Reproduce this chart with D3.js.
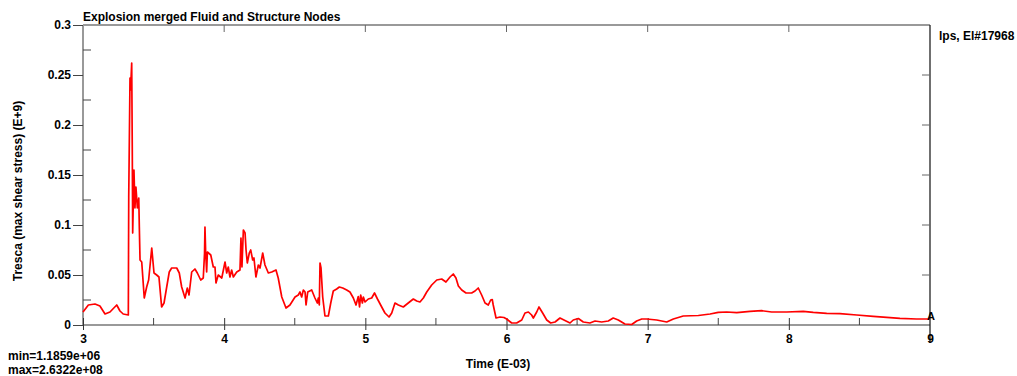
<!DOCTYPE html>
<html><head><meta charset="utf-8">
<script src="https://cdn.jsdelivr.net/npm/d3@7"></script>
<style>
html,body{margin:0;padding:0;background:#fff;}
svg text{font-family:"Liberation Sans",Arial,sans-serif;font-weight:bold;fill:#000;}
</style></head>
<body><svg id="chart" width="1017" height="376"></svg>
<script>
const title = "Explosion merged Fluid and Structure Nodes";
const yLabel = "Tresca (max shear stress) (E+9)";
const xLabel = "Time (E-03)";
const legendText = "lps, El#17968";
const minText = "min=1.1859e+06";
const maxText = "max=2.6322e+08";
const xTicks = [3,4,5,6,7,8,9];
const yTicks = [0,0.05,0.1,0.15,0.2,0.25,0.3];
const yTickLabels = ["0","0.05","0.1","0.15","0.2","0.25","0.3"];
const xMinorTicks = [3.5,4.5,5.5,6.5,7.5,8.5];
const yMinorTicks = [0.025,0.075,0.125,0.175,0.225,0.275];

const time = [3.000,3.038,3.085,3.120,3.156,3.191,3.239,3.262,3.285,3.321,3.324,3.333,3.337,3.345,3.349,3.352,3.361,3.368,3.375,3.385,3.395,3.399,3.404,3.416,3.434,3.451,3.465,3.487,3.503,3.522,3.538,3.557,3.574,3.593,3.611,3.628,3.664,3.682,3.699,3.723,3.739,3.751,3.770,3.793,3.810,3.834,3.852,3.861,3.864,3.869,3.876,3.881,3.905,3.923,3.935,3.942,3.958,3.983,4.006,4.018,4.029,4.041,4.053,4.065,4.089,4.112,4.119,4.126,4.136,4.148,4.155,4.164,4.178,4.188,4.202,4.211,4.225,4.242,4.254,4.273,4.289,4.313,4.337,4.367,4.383,4.408,4.438,4.466,4.502,4.525,4.537,4.549,4.561,4.573,4.580,4.592,4.620,4.643,4.660,4.667,4.674,4.679,4.686,4.698,4.714,4.738,4.755,4.773,4.797,4.816,4.840,4.868,4.891,4.915,4.934,4.950,4.959,4.967,4.979,4.986,4.998,5.021,5.045,5.065,5.086,5.116,5.139,5.168,5.187,5.210,5.234,5.269,5.304,5.340,5.364,5.387,5.411,5.435,5.470,5.506,5.541,5.571,5.600,5.623,5.642,5.659,5.683,5.713,5.753,5.777,5.800,5.824,5.848,5.871,5.888,5.899,5.906,5.926,5.954,5.982,6.001,6.037,6.072,6.108,6.131,6.155,6.178,6.190,6.214,6.230,6.256,6.285,6.313,6.344,6.379,6.414,6.450,6.473,6.509,6.544,6.591,6.627,6.674,6.721,6.756,6.792,6.839,6.887,6.922,6.958,6.993,7.064,7.135,7.182,7.252,7.359,7.442,7.500,7.560,7.631,7.725,7.808,7.878,7.985,8.102,8.173,8.268,8.362,8.481,8.598,8.693,8.787,8.905,9.000];
const tresca = [0.013,0.020,0.021,0.019,0.011,0.013,0.020,0.014,0.011,0.010,0.128,0.247,0.235,0.262,0.177,0.092,0.155,0.117,0.138,0.117,0.127,0.098,0.065,0.063,0.027,0.038,0.045,0.077,0.052,0.050,0.048,0.018,0.022,0.038,0.053,0.057,0.057,0.052,0.038,0.027,0.037,0.030,0.053,0.056,0.052,0.045,0.047,0.072,0.098,0.072,0.053,0.073,0.070,0.058,0.058,0.042,0.050,0.047,0.063,0.052,0.058,0.048,0.055,0.048,0.053,0.055,0.087,0.058,0.095,0.092,0.075,0.062,0.072,0.075,0.065,0.067,0.048,0.060,0.057,0.072,0.060,0.052,0.053,0.055,0.047,0.028,0.017,0.020,0.028,0.030,0.033,0.028,0.035,0.033,0.020,0.033,0.035,0.027,0.022,0.027,0.020,0.062,0.057,0.028,0.009,0.009,0.022,0.034,0.036,0.038,0.037,0.035,0.033,0.027,0.020,0.0285,0.018,0.030,0.022,0.028,0.023,0.026,0.027,0.032,0.026,0.018,0.012,0.008,0.012,0.022,0.020,0.018,0.022,0.026,0.024,0.023,0.027,0.033,0.040,0.045,0.046,0.043,0.048,0.051,0.047,0.039,0.035,0.032,0.032,0.034,0.037,0.030,0.022,0.020,0.025,0.0255,0.020,0.007,0.008,0.0075,0.006,0.002,0.002,0.005,0.012,0.013,0.010,0.007,0.013,0.018,0.012,0.005,0.002,0.003,0.007,0.0045,0.002,0.005,0.0065,0.003,0.002,0.004,0.003,0.004,0.007,0.005,0.001,0.0005,0.004,0.006,0.006,0.005,0.003,0.006,0.009,0.0095,0.011,0.0127,0.013,0.0123,0.0137,0.0143,0.013,0.013,0.0137,0.0127,0.0117,0.0113,0.010,0.0087,0.0077,0.0067,0.006,0.006];

const L = 83, R = 930, T = 25, B = 325;
const svg = d3.select("#chart");
const x = d3.scaleLinear().domain([3,9]).range([L,R]);
const y = d3.scaleLinear().domain([0,0.3]).range([B,T]);

// frame
svg.append("line").attr("x1",L).attr("x2",R).attr("y1",T).attr("y2",T).attr("stroke","#999").attr("stroke-width",2);
svg.append("line").attr("x1",L).attr("x2",R).attr("y1",B).attr("y2",B).attr("stroke","#999").attr("stroke-width",2);
svg.append("line").attr("x1",L).attr("x2",L).attr("y1",T).attr("y2",B).attr("stroke","#999").attr("stroke-width",2);
svg.append("line").attr("x1",R).attr("x2",R).attr("y1",T).attr("y2",B+18).attr("stroke","#222").attr("stroke-width",1.3);

// left axis (major ticks outside with labels)
const yAxis = d3.axisLeft(y).tickValues(yTicks).tickSize(10).tickPadding(2)
  .tickFormat((d,i)=>yTickLabels[i]);
const gy = svg.append("g").attr("transform",`translate(${L},0)`).call(yAxis);
gy.select(".domain").remove();
gy.selectAll(".tick line").attr("stroke","#444");
gy.selectAll(".tick text").attr("font-size",12).attr("font-weight","bold").attr("fill","#000");
// minor y ticks inside
svg.append("g").selectAll("line").data(yMinorTicks).join("line")
  .attr("x1",L).attr("x2",L+8).attr("y1",d=>y(d)).attr("y2",d=>y(d)).attr("stroke","#444");
// right axis ticks inside
svg.append("g").selectAll("line").data(yTicks.slice(1,-1)).join("line")
  .attr("x1",R-8).attr("x2",R).attr("y1",d=>y(d)).attr("y2",d=>y(d)).attr("stroke","#666");

// bottom axis
const xAxis = d3.axisBottom(x).tickValues(xTicks).tickSize(5).tickPadding(4).tickFormat(d3.format("d"));
const gx = svg.append("g").attr("transform",`translate(0,${B})`).call(xAxis);
gx.select(".domain").remove();
gx.selectAll(".tick line").attr("stroke","#333").attr("y1",-7);
gx.selectAll(".tick text").attr("font-size",12).attr("font-weight","bold").attr("fill","#000");
gx.selectAll(".tick").filter(d=>d===9).select("line").remove();
svg.append("g").selectAll("line").data(xMinorTicks).join("line")
  .attr("x1",d=>x(d)).attr("x2",d=>x(d)).attr("y1",B-7).attr("y2",B).attr("stroke","#444");
// top axis ticks inside
svg.append("g").selectAll("line").data(xTicks.slice(1,-1)).join("line")
  .attr("x1",d=>x(d)).attr("x2",d=>x(d)).attr("y1",T).attr("y2",T+7).attr("stroke","#666");

// curve
const line = d3.line().x((d,i)=>x(time[i])).y((d,i)=>y(tresca[i]));
svg.append("path").datum(tresca).attr("d",line).attr("fill","none")
  .attr("stroke","#ff0000").attr("stroke-width",1.7).attr("stroke-linejoin","round");

// end marker label
svg.append("text").attr("x",x(time[time.length-1])+1).attr("y",y(tresca[tresca.length-1])+1)
  .attr("font-size",11).attr("text-anchor","middle").attr("fill","#222").text("A");

// texts
svg.append("text").attr("x",L).attr("y",21).attr("font-size",12).text(title);
svg.append("text").attr("x",939).attr("y",40).attr("font-size",12).text(legendText);
svg.append("text").attr("x",498).attr("y",368).attr("font-size",12).attr("text-anchor","middle").text(xLabel);
svg.append("text").attr("transform","translate(22,191) rotate(-90)").attr("font-size",12).attr("text-anchor","middle").text(yLabel);
svg.append("text").attr("x",8).attr("y",360).attr("font-size",12).text(minText);
svg.append("text").attr("x",8).attr("y",374).attr("font-size",12).text(maxText);
</script></body></html>
